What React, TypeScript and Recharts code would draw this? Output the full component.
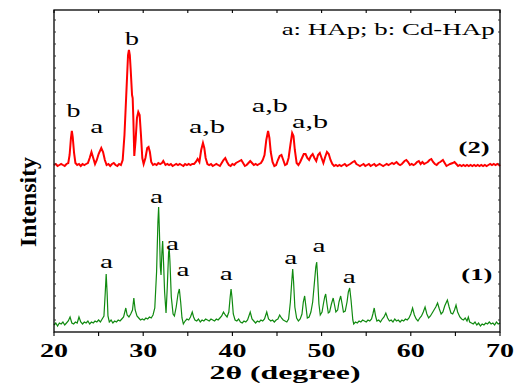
import React from "react";
import { LineChart, Line, XAxis, YAxis, ReferenceDot } from "recharts";

// 2θ (deg) / intensity (a.u., curves stacked with offset)
const SAMPLE2_CDHAP: [number, number][] = [
  [20.0,167],[20.2,168],[20.4,166],[20.6,167],[20.8,168],[21.0,167],[21.2,166],[21.4,168],[21.6,169],[21.75,177],
  [21.9,194],[22.0,201],[22.1,195],[22.25,179],[22.4,169],[22.6,167],[22.8,168],[23.0,166],[23.2,168],[23.4,167],
  [23.6,168],[23.8,169],[24.0,174],[24.2,180],[24.4,174],[24.6,168],[24.8,172],[25.0,178],[25.3,184],[25.5,180],
  [25.7,172],[25.9,167],[26.1,168],[26.3,166],[26.5,168],[26.7,169],[26.9,167],[27.1,166],[27.3,168],[27.5,167],
  [27.7,172],[27.9,197],[28.1,237],[28.3,277],[28.4,282],[28.5,277],[28.6,262],[28.75,237],[28.82,234],[28.9,212],
  [29.0,176],[29.15,192],[29.3,214],[29.45,220],[29.6,217],[29.75,197],[29.9,174],[30.05,168],[30.25,174],[30.45,184],
  [30.6,185],[30.75,180],[30.9,170],[31.1,167],[31.3,168],[31.5,167],[31.7,169],[31.9,168],[32.1,169],[32.25,171],
  [32.5,167],[32.7,168],[32.9,167],[33.1,168],[33.3,166],[33.5,167],[33.7,168],[33.9,167],[34.1,168],[34.3,167],
  [34.5,166],[34.7,168],[34.9,167],[35.1,168],[35.3,167],[35.5,168],[35.7,168],[35.9,170],[36.1,173],[36.3,170],
  [36.5,182],[36.7,189],[36.85,184],[37.0,174],[37.2,168],[37.4,167],[37.6,168],[37.8,166],[38.0,167],[38.2,168],
  [38.4,167],[38.6,166],[38.8,169],[39.0,172],[39.2,174],[39.4,170],[39.6,167],[39.8,166],[40.0,168],[40.2,167],
  [40.4,169],[40.6,170],[40.8,171],[41.0,172],[41.2,169],[41.4,166],[41.6,167],[41.8,169],[42.0,171],[42.2,169],
  [42.4,167],[42.6,168],[42.8,167],[43.0,168],[43.2,169],[43.4,172],[43.6,177],[43.8,192],[44.0,201],[44.15,194],
  [44.3,180],[44.5,170],[44.7,166],[44.9,167],[45.1,172],[45.3,176],[45.5,177],[45.7,172],[45.9,167],[46.1,168],
  [46.3,174],[46.5,187],[46.7,199],[46.85,196],[47.0,182],[47.2,169],[47.4,167],[47.6,170],[47.8,174],[48.0,178],
  [48.2,178],[48.4,174],[48.6,172],[48.8,176],[49.0,178],[49.2,174],[49.4,171],[49.6,177],[49.8,179],[50.0,174],
  [50.2,169],[50.4,175],[50.6,180],[50.8,178],[51.0,172],[51.2,168],[51.4,166],[51.6,167],[51.8,166],[52.0,167],
  [52.2,166],[52.4,167],[52.6,168],[52.8,166],[53.0,167],[53.2,168],[53.5,170],[53.7,171],[53.9,168],[54.1,167],
  [54.3,166],[54.5,167],[54.7,168],[54.9,166],[55.1,167],[55.3,168],[55.5,166],[55.7,167],[55.9,168],[56.1,166],
  [56.3,167],[56.5,168],[56.7,167],[56.9,166],[57.1,167],[57.3,168],[57.5,167],[57.7,168],[57.9,169],[58.1,168],
  [58.4,170],[58.6,168],[58.8,167],[59.0,168],[59.3,171],[59.5,172],[59.7,170],[59.9,167],[60.1,168],[60.3,167],
  [60.5,168],[60.7,170],[60.9,171],[61.1,168],[61.3,170],[61.5,168],[61.7,169],[61.9,170],[62.1,172],[62.3,173],
  [62.5,170],[62.7,168],[62.9,167],[63.1,169],[63.3,170],[63.6,172],[63.8,169],[64.0,166],[64.2,167],[64.4,168],
  [64.7,169],[64.9,170],[65.1,168],[65.3,166],[65.5,167],[65.7,166],[65.9,167],[66.1,166],[66.3,167],[66.5,166],
  [66.7,167],[66.9,166],[67.1,167],[67.3,166],[67.5,167],[67.7,166],[67.9,167],[68.1,166],[68.3,167],[68.5,166],
  [68.7,167],[68.9,168],[69.1,167],[69.3,168],[69.5,167],[69.7,168],[69.9,167],[70.0,166],
];

const SAMPLE1_HAP: [number, number][] = [
  [20.0,7],[20.2,9],[20.4,6],[20.6,9],[20.8,8],[21.0,10],[21.2,7],[21.4,9],[21.6,11],[21.8,15],
  [22.0,9],[22.2,8],[22.4,10],[22.6,9],[22.8,15],[23.0,10],[23.2,8],[23.4,10],[23.6,9],[23.8,11],
  [24.0,8],[24.2,10],[24.4,9],[24.6,11],[24.8,10],[25.0,12],[25.2,10],[25.4,13],[25.6,16],[25.75,40],
  [25.85,58],[25.95,40],[26.05,16],[26.2,10],[26.4,12],[26.6,9],[26.8,11],[27.0,10],[27.2,12],[27.4,11],
  [27.6,13],[27.8,15],[28.05,24],[28.2,17],[28.4,15],[28.6,18],[28.8,22],[28.95,34],[29.1,22],[29.3,16],
  [29.5,14],[29.7,12],[29.9,13],[30.1,12],[30.3,14],[30.5,13],[30.7,15],[30.9,14],[31.1,17],[31.3,24],
  [31.5,60],[31.65,110],[31.73,125],[31.82,100],[31.92,65],[32.0,57],[32.1,80],[32.18,91],[32.28,70],[32.4,40],
  [32.56,19],[32.7,45],[32.85,80],[32.92,83],[33.0,70],[33.15,35],[33.35,18],[33.5,16],[33.7,25],[33.9,38],
  [34.05,43],[34.2,30],[34.35,14],[34.5,8],[34.7,11],[34.9,13],[35.1,12],[35.3,15],[35.5,20],[35.65,15],
  [35.8,12],[36.0,11],[36.2,13],[36.4,10],[36.6,12],[36.8,11],[37.0,13],[37.2,12],[37.4,11],[37.6,13],
  [37.8,12],[38.0,11],[38.2,13],[38.4,12],[38.6,14],[38.8,16],[39.0,20],[39.2,17],[39.4,15],[39.6,20],
  [39.75,35],[39.85,43],[39.95,35],[40.1,18],[40.3,12],[40.5,11],[40.7,13],[40.9,10],[41.1,9],[41.3,11],
  [41.5,10],[41.7,12],[42.0,20],[42.2,13],[42.4,11],[42.6,9],[42.8,11],[43.0,10],[43.2,12],[43.4,11],
  [43.6,13],[43.85,20],[44.05,13],[44.3,11],[44.5,12],[44.7,10],[44.9,12],[45.1,13],[45.3,17],[45.5,14],
  [45.7,12],[45.9,11],[46.1,10],[46.3,13],[46.5,30],[46.65,50],[46.76,63],[46.86,50],[47.0,25],[47.2,14],
  [47.4,11],[47.6,13],[47.8,18],[47.95,30],[48.1,36],[48.25,25],[48.4,14],[48.6,15],[48.8,20],[49.0,30],
  [49.2,50],[49.35,65],[49.45,70],[49.55,55],[49.7,28],[49.85,17],[50.05,20],[50.2,28],[50.35,35],[50.46,38],
  [50.6,28],[50.75,19],[50.9,20],[51.1,28],[51.3,34],[51.45,27],[51.6,20],[51.8,22],[51.95,30],[52.14,36],
  [52.3,28],[52.45,20],[52.65,21],[52.85,30],[53.0,40],[53.15,44],[53.3,32],[53.5,12],[53.6,8],[53.8,10],
  [54.0,9],[54.2,11],[54.4,10],[54.6,12],[54.8,11],[55.0,10],[55.2,12],[55.4,11],[55.6,13],[55.75,18],
  [55.9,24],[56.05,16],[56.2,11],[56.4,12],[56.6,10],[56.8,13],[57.0,15],[57.2,19],[57.4,14],[57.6,11],
  [57.8,12],[58.0,10],[58.2,13],[58.4,11],[58.6,12],[58.8,10],[59.0,12],[59.2,11],[59.4,13],[59.6,12],
  [59.8,14],[60.0,18],[60.2,24],[60.4,17],[60.6,13],[60.8,11],[61.0,14],[61.2,16],[61.4,20],[61.6,25],
  [61.8,18],[62.0,14],[62.2,16],[62.4,19],[62.6,22],[62.8,25],[63.0,29],[63.2,23],[63.4,18],[63.6,20],
  [63.8,26],[64.0,30],[64.1,32],[64.3,25],[64.5,19],[64.7,18],[64.9,22],[65.07,27],[65.25,20],[65.5,15],
  [65.7,13],[65.9,12],[66.1,14],[66.3,11],[66.45,15],[66.6,10],[66.8,9],[67.0,8],[67.2,10],[67.4,7],
  [67.6,9],[67.8,6],[68.0,8],[68.2,7],[68.4,9],[68.6,8],[68.8,10],[69.0,8],[69.2,9],[69.4,7],
  [69.6,10],[69.8,8],[70.0,9],
];

// peak assignments: [text, 2θ, intensity at text baseline, bold, drawn width px]
const PEAK_LABELS: [string, number, number, boolean, number][] = [
  ["b", 22.2, 215, false, 14],
  ["a", 24.8, 199, false, 13],
  ["b", 28.75, 287, false, 14],
  ["a,b", 37.15, 199, false, 36],
  ["a,b", 44.2, 220, false, 36],
  ["a,b", 48.7, 204, false, 36],
  ["(2)", 67.1, 179, true, 31],
  ["a", 25.9, 64, false, 13],
  ["a", 31.5, 129, false, 13],
  ["a", 33.3, 82, false, 13],
  ["a", 34.45, 56, false, 13],
  ["a", 39.3, 52, false, 13],
  ["a", 46.55, 68, false, 13],
  ["a", 49.7, 80, false, 13],
  ["a", 53.1, 49, false, 13],
  ["(1)", 67.4, 52, true, 31],
];

const KEY_TEXT = "a: HAp; b: Cd-HAp";
const X_TICKS = [20, 25, 30, 35, 40, 45, 50, 55, 60, 65, 70];
const Y_TICKS = [
  12, 24, 36, 48, 60, 72, 84, 96, 108, 120, 132, 144, 156, 168, 180,
  192, 204, 216, 228, 240, 252, 264, 276, 288, 300, 312,
];
const X_MIN = 20;
const X_MAX = 70;
const Y_MAX = 322;

const W = 514;
const H = 387;
const MARGIN = { top: 10, right: 14, bottom: 25, left: 54 };
const XAXIS_H = 30;
const PLOT_W = W - MARGIN.left - MARGIN.right;
const PLOT_H = H - MARGIN.top - MARGIN.bottom - XAXIS_H;

const FONT = "'Liberation Serif', 'Times New Roman', Times, serif";

const toPoints = (arr: [number, number][]) => arr.map(([t, i]) => ({ t, i }));
const redData = toPoints(SAMPLE2_CDHAP);
const greenData = toPoints(SAMPLE1_HAP);

// tickSize 4 + tickMargin 2 => y is 6px below the axis line
function XTick({ x, y, payload }: any) {
  if (payload.value % 10 !== 0) return <g />;
  return (
    <text
      x={x}
      y={y + 19}
      textAnchor="middle"
      fontFamily={FONT}
      fontSize={18}
      fontWeight="bold"
      textLength={28}
      lengthAdjust="spacingAndGlyphs"
      fill="#000"
    >
      {payload.value}
    </text>
  );
}

// box + tick marks laid over the chart, same plot box as the chart margins
function Frame() {
  const px = (v: number) => MARGIN.left + ((v - X_MIN) / (X_MAX - X_MIN)) * PLOT_W;
  const py = (v: number) => MARGIN.top + PLOT_H - (v / Y_MAX) * PLOT_H;
  const bottom = MARGIN.top + PLOT_H;
  const right = MARGIN.left + PLOT_W;
  return (
    <svg
      width={W}
      height={H}
      style={{ position: "absolute", left: 0, top: 0, pointerEvents: "none" }}
    >
      <rect
        x={MARGIN.left}
        y={MARGIN.top}
        width={PLOT_W}
        height={PLOT_H}
        fill="none"
        stroke="#000"
        strokeWidth={1.3}
      />
      {X_TICKS.map((v) => (
        <g key={`x${v}`} stroke="#000" strokeWidth={1.1}>
          <line x1={px(v)} x2={px(v)} y1={bottom} y2={bottom + 4} />
          <line x1={px(v)} x2={px(v)} y1={MARGIN.top} y2={MARGIN.top + 3} />
        </g>
      ))}
      {Y_TICKS.map((v) => (
        <g key={`y${v}`} stroke="#333" strokeWidth={1}>
          <line x1={MARGIN.left} x2={MARGIN.left + 2} y1={py(v)} y2={py(v)} />
          <line x1={right - 2} x2={right} y1={py(v)} y2={py(v)} />
        </g>
      ))}
    </svg>
  );
}

export default function App() {
  return (
    <div style={{ position: "absolute", left: 0, top: 0, width: W, height: H, background: "#fff" }}>
      <LineChart width={W} height={H} margin={MARGIN}>
        <XAxis
          type="number"
          dataKey="t"
          domain={[X_MIN, X_MAX]}
          ticks={X_TICKS}
          interval={0}
          height={XAXIS_H}
          tickSize={4}
          axisLine={false}
          tickLine={false}
          tick={<XTick />}
        />
        <YAxis type="number" domain={[0, Y_MAX]} hide />

        <Line
          data={greenData}
          dataKey="i"
          stroke="#108a10"
          strokeWidth={1.2}
          dot={false}
          isAnimationActive={false}
        />
        <Line
          data={redData}
          dataKey="i"
          stroke="#ff0000"
          strokeWidth={2}
          dot={false}
          isAnimationActive={false}
        />
        {PEAK_LABELS.map(([s, t, i, bold, w], k) => (
          <ReferenceDot
            key={k}
            x={t}
            y={i}
            r={0}
            shape={(p: any) => (
              <text
                x={p.cx}
                y={p.cy}
                textAnchor="middle"
                fontFamily={FONT}
                fontSize={bold ? 17 : 19}
                fontWeight={bold ? "bold" : "normal"}
                textLength={w}
                lengthAdjust="spacingAndGlyphs"
                fill="#000"
              >
                {s}
              </text>
            )}
          />
        ))}
        <ReferenceDot
          x={69.4}
          y={297}
          r={0}
          shape={(p: any) => (
            <text
              x={p.cx}
              y={p.cy}
              textAnchor="end"
              fontFamily={FONT}
              fontSize={17}
              textLength={213}
              lengthAdjust="spacingAndGlyphs"
              fill="#000"
            >
              {KEY_TEXT}
            </text>
          )}
        />
        <text
          x={285}
          y={379}
          textAnchor="middle"
          fontFamily={FONT}
          fontSize={19}
          fontWeight="bold"
          textLength={151}
          lengthAdjust="spacingAndGlyphs"
          fill="#000"
        >
          2θ (degree)
        </text>
        <text
          transform="translate(36,202) rotate(-90)"
          textAnchor="middle"
          fontFamily={FONT}
          fontSize={23}
          fontWeight="bold"
          textLength={90}
          lengthAdjust="spacingAndGlyphs"
          fill="#000"
        >
          Intensity
        </text>
      </LineChart>
      <Frame />
    </div>
  );
}
